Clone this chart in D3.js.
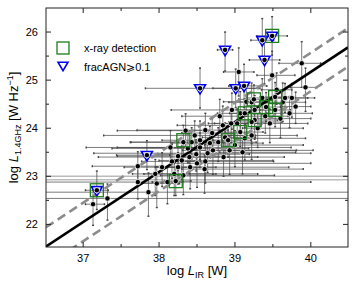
<!DOCTYPE html>
<html><head><meta charset="utf-8">
<script src="https://cdn.jsdelivr.net/npm/d3@7"></script>
<style>body{margin:0;background:#fff}svg{display:block;font-family:"Liberation Sans",Arial,sans-serif}</style>
</head><body><svg id="c" width="356" height="290"></svg>
<script>
// ---- data ----
const xTicks = [37, 38, 39, 40];
const yTicks = [22, 23, 24, 25, 26];
const fitSlope = 1.04, fitIntercept = -16.43, fitScatter = 0.4;
// black points: log L_IR, log L_1.4GHz, errors (lo/hi)
const ptX  = [37.13,37.32,37.18,37.72,37.86,37.72,37.97,38.04,38.11,38.22,38.17,38.25,38.30,38.32,38.38,38.41,38.49,38.50,38.54,38.61,38.64,38.67,38.43,38.47,38.54,38.61,38.71,38.78,38.84,38.87,38.91,38.93,39.03,39.07,39.13,38.96,39.07,39.13,39.22,39.25,39.36,39.26,39.26,39.41,39.46,39.53,39.53,39.63,39.72,39.66,39.75,39.93,39.88,39.49,39.05,39.22,39.22,38.32,38.25,37.84,38.54,38.87,39.01,39.12,39.36,39.39,39.49,
              37.95,38.15,38.35,38.70,38.80,38.95,39.00,39.15,39.30,39.40,39.60,39.55,39.80,38.60,38.85,39.10,38.40,38.20];
const ptY  = [22.42,22.54,22.71,22.88,22.67,23.21,22.85,23.19,22.88,22.90,23.31,23.42,23.33,23.02,23.58,23.19,23.46,23.27,23.60,23.31,23.48,23.69,23.71,23.85,23.75,23.96,23.54,23.71,24.06,23.81,23.75,23.54,24.10,23.92,23.79,24.38,24.31,24.31,24.54,24.60,24.63,24.38,24.17,24.44,24.10,24.65,24.38,24.54,24.31,24.63,24.63,24.85,25.35,25.10,25.17,24.13,23.85,23.71,23.19,23.44,24.83,25.63,24.83,24.88,25.83,25.42,25.92,
              23.05,23.60,23.95,23.90,24.25,24.10,23.65,24.55,24.00,24.25,24.20,24.80,24.45,23.15,23.40,23.50,23.40,23.05];
const exLo = [0.10,4.00,0.15,2.00,4.00,0.60,0.20,0.50,0.20,0.15,0.40,0.80,0.30,0.30,1.00,0.30,0.50,0.30,1.50,0.40,1.50,0.50,0.80,1.20,0.50,0.90,0.40,0.30,0.60,0.30,0.20,0.40,0.30,0.20,0.30,0.80,0.30,0.20,0.30,0.20,0.20,0.30,0.20,0.20,0.30,0.20,0.20,0.20,0.30,0.30,0.20,0.20,0.30,0.20,0.20,0.30,0.40,0.70,0.30,0.40,0.72,0.10,0.30,0.20,0.15,0.20,0.20,
              0.30,0.70,0.90,0.40,0.50,0.30,0.40,0.30,0.20,0.30,0.30,0.20,0.20,0.30,0.60,0.30,1.20,0.40];
const exHi = [0.15,4.00,0.15,2.28,4.00,0.30,0.30,0.50,0.20,0.20,0.30,0.60,1.20,1.20,0.80,1.30,0.70,1.50,1.20,0.90,1.36,0.70,0.40,0.80,0.30,0.30,1.10,0.50,0.30,0.40,0.30,1.10,0.40,0.30,0.80,0.30,0.20,0.20,0.20,0.20,0.30,0.30,0.30,0.20,0.50,0.20,0.20,0.30,0.30,0.30,0.30,0.15,0.25,0.30,0.20,0.40,0.60,0.30,0.50,0.30,0.79,0.10,0.30,0.30,0.15,0.20,0.20,
              0.80,0.40,0.30,0.50,0.30,0.40,0.90,0.30,0.60,0.30,0.40,0.20,0.20,1.30,0.80,0.70,0.90,1.10];
const eyLo = [0.44,0.45,0.40,0.35,0.50,0.30,0.50,0.40,0.45,0.30,0.35,0.30,0.40,0.40,0.30,0.45,0.35,0.50,0.30,0.45,0.40,0.30,0.35,0.30,0.40,0.30,0.50,0.40,0.35,0.40,0.35,0.50,0.35,0.30,0.45,0.40,0.35,0.30,0.40,0.30,0.35,0.40,0.40,0.30,0.40,0.35,0.35,0.40,0.30,0.30,0.40,0.50,0.50,0.50,0.50,0.45,0.50,0.30,0.35,0.30,0.41,0.44,0.40,0.45,0.35,0.50,0.40,
              0.45,0.30,0.30,0.35,0.30,0.40,0.45,0.30,0.40,0.35,0.40,0.30,0.35,0.50,0.40,0.45,0.35,0.45];
const eyHi = [0.29,0.30,0.40,0.35,0.40,0.30,0.35,0.30,0.30,0.30,0.35,0.30,0.30,0.30,0.35,0.30,0.30,0.30,0.30,0.30,0.30,0.35,0.30,0.30,0.40,0.35,0.30,0.30,0.40,0.30,0.30,0.30,0.30,0.30,0.30,0.35,0.45,0.30,0.40,0.30,0.40,0.30,0.30,0.30,0.30,0.30,0.30,0.40,0.35,0.30,0.30,0.40,0.45,0.50,0.50,0.30,0.30,0.35,0.30,0.30,0.42,0.37,0.40,0.45,0.45,0.45,0.40,
              0.30,0.35,0.35,0.30,0.35,0.30,0.30,0.35,0.30,0.30,0.30,0.35,0.30,0.30,0.30,0.30,0.30,0.30];
// light grey full-width limits
const limitY = [23.0, 22.93];
// x-ray detections
const xrayX = [37.18,38.22,38.32,38.91,39.07,39.13,39.26,39.25,39.41,39.53,39.53,39.49];
const xrayY = [22.71,22.90,23.75,23.75,23.92,24.31,24.17,24.60,24.44,24.65,24.38,25.92];
// fracAGN >= 0.1
const agnX = [37.18,37.84,38.54,38.87,39.01,39.12,39.36,39.39,39.49];
const agnY = [22.71,23.44,24.83,25.63,24.83,24.88,25.83,25.42,25.92];

// ---- layout ----
const L = 46, R = 348, T = 8, B = 247;
const x = d3.scaleLinear().domain([36.51, 40.49]).range([L, R]);
const y = d3.scaleLinear().domain([21.53, 26.5]).range([B, T]);
const svg = d3.select("#c");
svg.append("defs").append("clipPath").attr("id","clip")
  .append("rect").attr("x",L).attr("y",T).attr("width",R-L).attr("height",B-T);
const g = svg.append("g").attr("clip-path","url(#clip)");

// limits
g.selectAll(".lim").data(limitY).join("line")
  .attr("x1",L).attr("x2",R).attr("y1",d=>y(d)).attr("y2",d=>y(d))
  .attr("stroke","#bbb").attr("stroke-width",1.6);

// error bars
const eb = g.append("g").attr("stroke","#444").attr("stroke-width",0.7);
const idx = d3.range(ptX.length);
eb.selectAll(".h").data(idx).join("line")
  .attr("x1",i=>x(ptX[i]-exLo[i])).attr("x2",i=>x(ptX[i]+exHi[i]))
  .attr("y1",i=>y(ptY[i])).attr("y2",i=>y(ptY[i]));
eb.selectAll(".v").data(idx).join("line")
  .attr("x1",i=>x(ptX[i])).attr("x2",i=>x(ptX[i]))
  .attr("y1",i=>y(ptY[i]-eyLo[i])).attr("y2",i=>y(ptY[i]+eyHi[i]));
// caps
const caps = [];
idx.forEach(i=>{
  caps.push([x(ptX[i]-exLo[i]),y(ptY[i]),"v"],[x(ptX[i]+exHi[i]),y(ptY[i]),"v"],
            [x(ptX[i]),y(ptY[i]-eyLo[i]),"h"],[x(ptX[i]),y(ptY[i]+eyHi[i]),"h"]);
});
eb.selectAll(".cap").data(caps).join("line")
  .attr("stroke-width",1.4)
  .attr("x1",d=>d[2]==="v"?d[0]:d[0]-1).attr("x2",d=>d[2]==="v"?d[0]:d[0]+1)
  .attr("y1",d=>d[2]==="v"?d[1]-1:d[1]).attr("y2",d=>d[2]==="v"?d[1]+1:d[1]);

// fit lines
const xd = x.domain();
const line = d3.line().x(d=>x(d[0])).y(d=>y(d[1]));
[fitScatter,-fitScatter].forEach(o=>{
  g.append("path").attr("d",line(xd.map(v=>[v,fitSlope*v+fitIntercept+o])))
   .attr("stroke","#8c8c8c").attr("stroke-width",2.6).attr("fill","none")
   .attr("stroke-dasharray","9,5");
});
g.append("path").attr("d",line(xd.map(v=>[v,fitSlope*v+fitIntercept])))
  .attr("stroke","#000").attr("stroke-width",2.6).attr("fill","none");

// triangles
const tri = (cx,cy,s)=>`M${cx-s},${cy-s*0.75}L${cx+s},${cy-s*0.75}L${cx},${cy+s*0.95}Z`;
g.selectAll(".tri").data(agnX.map((v,i)=>[v,agnY[i]])).join("path")
  .attr("d",d=>tri(x(d[0]),y(d[1])+0.5,5.5)).attr("fill","#fff").attr("stroke","#0000ee").attr("stroke-width",1.6);
// dots
g.selectAll(".dot").data(idx).join("circle")
  .attr("cx",i=>x(ptX[i])).attr("cy",i=>y(ptY[i])).attr("r",2.7)
  .attr("fill","#000").attr("stroke","#fff").attr("stroke-width",0.8);
// squares
g.selectAll(".sq").data(xrayX.map((v,i)=>[v,xrayY[i]])).join("rect")
  .attr("x",d=>x(d[0])-6.5).attr("y",d=>y(d[1])-6.5).attr("width",13).attr("height",13)
  .attr("fill","none").attr("stroke","#1e7d1e").attr("stroke-width",1.3);

// axes frame & ticks
const ax = svg.append("g").attr("stroke","#222").attr("stroke-width",1);
ax.append("rect").attr("x",L).attr("y",T).attr("width",R-L).attr("height",B-T).attr("fill","none");
const xMinor = d3.range(36.5, 40.51, 0.5).filter(v=>v>x.domain()[0]&&v<x.domain()[1]);
const yMinor = d3.range(21.5, 26.51, 0.5).filter(v=>v>y.domain()[0]&&v<y.domain()[1]);
xMinor.forEach(v=>{
  const len = Number.isInteger(v)?5:3;
  ax.append("line").attr("x1",x(v)).attr("x2",x(v)).attr("y1",B).attr("y2",B-len);
  ax.append("line").attr("x1",x(v)).attr("x2",x(v)).attr("y1",T).attr("y2",T+len);
});
yMinor.forEach(v=>{
  const len = Number.isInteger(v)?5:3;
  ax.append("line").attr("y1",y(v)).attr("y2",y(v)).attr("x1",L).attr("x2",L+len);
  ax.append("line").attr("y1",y(v)).attr("y2",y(v)).attr("x1",R).attr("x2",R-len);
});
svg.selectAll(".xt").data(xTicks).join("text")
  .attr("x",d=>x(d)).attr("y",B+15).attr("text-anchor","middle").attr("font-size",11).text(d=>d);
svg.selectAll(".yt").data(yTicks).join("text")
  .attr("x",L-8).attr("y",d=>y(d)+4).attr("text-anchor","end").attr("font-size",11).text(d=>d);

// axis titles
const xl = svg.append("text").attr("x",(L+R)/2).attr("y",275).attr("text-anchor","middle").attr("font-size",13);
xl.append("tspan").text("log ");
xl.append("tspan").attr("font-style","italic").text("L");
xl.append("tspan").attr("font-size",9).attr("dy",3).text("IR");
xl.append("tspan").attr("dy",-3).text(" [W]");
const yl = svg.append("text").attr("transform",`translate(18,${(T+B)/2}) rotate(-90)`).attr("text-anchor","middle").attr("font-size",13);
yl.append("tspan").text("log ");
yl.append("tspan").attr("font-style","italic").text("L");
yl.append("tspan").attr("font-size",9).attr("dy",3).text("1.4GHz");
yl.append("tspan").attr("dy",-3).text(" [W Hz");
yl.append("tspan").attr("font-size",9).attr("dy",-5).text("−1");
yl.append("tspan").attr("dy",5).text("]");

// legend
svg.append("rect").attr("x",57).attr("y",42).attr("width",12).attr("height",12)
  .attr("fill","none").attr("stroke","#1e7d1e").attr("stroke-width",1.3);
svg.append("text").attr("x",84).attr("y",52).attr("font-size",11).text("x-ray detection");
svg.append("path").attr("d",tri(63,66,5)).attr("fill","#fff").attr("stroke","#0000ee").attr("stroke-width",1.6);
svg.append("text").attr("x",84).attr("y",71).attr("font-size",11).text("fracAGN⩾0.1");
</script></body></html>
